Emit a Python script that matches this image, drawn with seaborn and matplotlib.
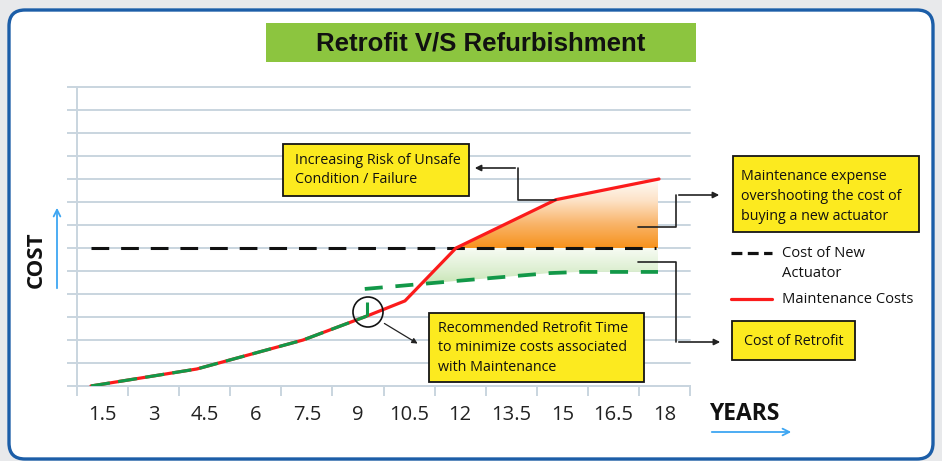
import matplotlib
matplotlib.use('Agg')
import matplotlib.pyplot as plt
import numpy as np
import seaborn as sns
from matplotlib.patches import FancyBboxPatch, Rectangle, Circle, FancyArrowPatch
from matplotlib.lines import Line2D
from matplotlib.colors import LinearSegmentedColormap

# ── data (years on x, cost in grid units on y) ───────────────
year_labels = ['1.5', '3', '4.5', '6', '7.5', '9', '10.5', '12', '13.5', '15', '16.5', '18']
year_centers = [1.5, 3, 4.5, 6, 7.5, 9, 10.5, 12, 13.5, 15, 16.5, 18]

maint_x = [1.16, 4.27, 7.39, 9.26, 10.38, 11.88, 14.81, 17.84]
maint_y = [0.0, 0.74, 2.0, 3.04, 3.70, 6.0, 8.1, 9.0]

new_cost_x = [1.16, 17.75]
new_cost_y = [6.0, 6.0]

retrofit_x = [9.2, 11.91, 14.64, 15.52, 17.81]
retrofit_y = [4.22, 4.57, 4.91, 4.96, 4.96]

retrofit_time = 9.26
retrofit_tick = [3.04, 3.65]

# ── style ────────────────────────────────────────────────────
sns.set_theme(style='white')
plt.rcParams['font.family'] = ['Open Sans', 'DejaVu Sans']

RED = '#fb1b1b'
GREEN = '#129848'
GRID = '#c9d5df'
YELLOW = '#fcea1f'
BLUE = '#3ea6f2'

fig = plt.figure(figsize=(9.42, 4.61), dpi=100, facecolor='#e8e9eb')
T = fig.dpi_scale_trans


def P(x, y):
    # reference pixel position -> figure inches
    return (x / 100, (461 - y) / 100)


# blue rounded frame
fig.add_artist(FancyBboxPatch(P(9, 459), 9.24, 4.49,
                              boxstyle='round,pad=0,rounding_size=0.16',
                              transform=T, facecolor='white', edgecolor='#1c5ea8',
                              linewidth=2.4, zorder=-1))

ax = fig.add_axes([77 / 942, 75 / 461, 613 / 942, 299 / 461])
ax.set_facecolor('none')

# ── gradient fills ───────────────────────────────────────────
xs = np.linspace(maint_x[0], retrofit_x[-1], 800)
red_i = np.interp(xs, maint_x, maint_y)
ret_i = np.interp(xs, retrofit_x, retrofit_y)
cost_lvl = new_cost_y[0]

orange = ax.fill_between(xs, cost_lvl, red_i, where=red_i >= cost_lvl, interpolate=True,
                         facecolor='none', edgecolor='none')
top = np.minimum(cost_lvl, red_i)
green = ax.fill_between(xs, ret_i, top, where=(xs >= retrofit_x[0]) & (top > ret_i),
                        interpolate=True, facecolor='none', edgecolor='none')

grad = np.linspace(0, 1, 256).reshape(-1, 1)
cm_or = LinearSegmentedColormap.from_list('or', ['#f7921c', '#f9b469', '#fde3c8', '#ffffff'])
cm_gr = LinearSegmentedColormap.from_list('gr', ['#bfe1aa', '#dff0d4', '#f8fcf5'])
im1 = ax.imshow(grad, extent=[11.5, 18, cost_lvl, max(maint_y) + 0.1], origin='lower',
                aspect='auto', cmap=cm_or, zorder=1)
im1.set_clip_path(orange.get_paths()[0], transform=ax.transData)
im2 = ax.imshow(grad, extent=[9, 18, min(retrofit_y) - 0.05, cost_lvl], origin='lower',
                aspect='auto', cmap=cm_gr, zorder=1)
im2.set_clip_path(green.get_paths()[0], transform=ax.transData)

# ── lines ────────────────────────────────────────────────────
sns.lineplot(x=new_cost_x, y=new_cost_y, ax=ax, color='#111111', lw=2.2,
             linestyle=(0, (5.8, 3.9)), zorder=3)
sns.lineplot(x=retrofit_x, y=retrofit_y, ax=ax, color=GREEN, lw=2.7,
             linestyle=(0, (4.8, 3.4)), zorder=3)
sns.lineplot(x=maint_x, y=maint_y, ax=ax, color=RED, lw=2.3, sort=False, zorder=4)
sns.lineplot(x=maint_x[:4], y=maint_y[:4], ax=ax, color=GREEN, lw=2.3,
             linestyle=(0, (6, 2.6)), sort=False, zorder=5)
ax.vlines(retrofit_time, retrofit_tick[0], retrofit_tick[1], color=GREEN, lw=2.2, zorder=5)

# ── axes ─────────────────────────────────────────────────────
ax.set_xlim(0.75, 18.75)
ax.set_ylim(0, 13)
ax.set_xticks(np.arange(0.75, 18.76, 1.5))
ax.set_xticklabels([])
ax.set_xticks(year_centers, minor=True)
ax.set_xticklabels(year_labels, minor=True)
ax.set_yticks(range(14))
ax.set_yticklabels([])
ax.tick_params(axis='x', which='major', bottom=True, length=7.5, width=1.4, color=GRID)
ax.tick_params(axis='x', which='minor', bottom=True, length=0, pad=14,
               labelsize=14.5, labelcolor='#222222')
ax.tick_params(axis='y', left=True, length=7.5, width=1.4, color=GRID)
ax.yaxis.grid(True, color=GRID, lw=1.4)
ax.xaxis.grid(False)
for gl in ax.get_ygridlines():
    gl.set_clip_on(False)
sns.despine(ax=ax)
for s in ['left', 'bottom']:
    ax.spines[s].set_color(GRID)
    ax.spines[s].set_linewidth(1.4)
ax.set_xlabel('')
ax.set_ylabel('')

# ── title ────────────────────────────────────────────────────
fig.add_artist(Rectangle(P(266, 62), 4.30, 0.39, transform=T, facecolor='#8cc53f',
                         edgecolor='none'))
fig.text(*P(481, 43), 'Retrofit V/S Refurbishment', transform=T, ha='center', va='center',
         fontsize=18.5, fontweight='bold', color='#111111',
         family=['Liberation Sans Narrow', 'Liberation Sans', 'DejaVu Sans'])

# ── axis captions ────────────────────────────────────────────
fig.text(*P(744, 414), 'YEARS', transform=T, ha='center', va='center',
         fontsize=16.5, fontweight='bold', color='#111111')
fig.add_artist(FancyArrowPatch(P(709, 432), P(794, 432), transform=T, arrowstyle='->',
                               mutation_scale=12, lw=1.3, color=BLUE))
fig.text(*P(36, 260), 'COST', transform=T, ha='center', va='center', rotation=90,
         fontsize=16, fontweight='bold', color='#111111')
fig.add_artist(FancyArrowPatch(P(57, 291), P(57, 205), transform=T, arrowstyle='->',
                               mutation_scale=12, lw=1.3, color=BLUE))


# ── callout boxes ────────────────────────────────────────────
def box(x0, y0, x1, y1, lines, tx, ty, dy, ha='left', size=10.3):
    fig.add_artist(Rectangle(P(x0, y1), (x1 - x0) / 100, (y1 - y0) / 100, transform=T,
                             facecolor=YELLOW, edgecolor='#151515', lw=1.3))
    for i, line in enumerate(lines):
        fig.text(*P(tx, ty + i * dy), line, transform=T, ha=ha, va='center',
                 fontsize=size, color='#111111')


def connector(pts):
    xy = [P(*p) for p in pts]
    fig.add_artist(Line2D([p[0] for p in xy[:-1]], [p[1] for p in xy[:-1]],
                          transform=T, color='#222222', lw=1.2))
    fig.add_artist(FancyArrowPatch(xy[-2], xy[-1], transform=T, arrowstyle='-|>',
                                   mutation_scale=9, lw=1.2, color='#222222'))


box(283, 144, 469, 196, ['Increasing Risk of Unsafe', 'Condition / Failure'], 295, 160, 19.5)
connector([(556, 200), (518, 200), (518, 168), (472, 168)])

box(733, 156, 919, 232, ['Maintenance expense', 'overshooting the cost of',
                         'buying a new actuator'], 741, 176, 20)
connector([(638, 227), (676, 227), (676, 195), (722, 195)])

box(732, 321, 855, 360, ['Cost of Retrofit'], 793.5, 341, 0, ha='center')
connector([(638, 262), (676, 262), (676, 342), (723, 342)])

box(429, 313, 644, 382, ['Recommended Retrofit Time', 'to minimize costs associated',
                         'with Maintenance'], 438, 328, 19.5)

# retrofit point marker
fig.add_artist(Circle(P(368, 312), 0.15, transform=T, fill=False, edgecolor='#111111', lw=1.2))
fig.add_artist(FancyArrowPatch(P(382, 322), P(420, 345), transform=T, arrowstyle='-|>',
                               mutation_scale=8, lw=0.9, color='#222222'))

# ── legend ───────────────────────────────────────────────────
fig.add_artist(Line2D([P(731, 0)[0], P(772, 0)[0]], [P(0, 253)[1]] * 2, transform=T,
                      color='#111111', lw=2.3, linestyle=(0, (3.4, 1.7))))
fig.add_artist(Line2D([P(731, 0)[0], P(772, 0)[0]], [P(0, 299)[1]] * 2, transform=T,
                      color=RED, lw=2.3))
fig.text(*P(782, 253), 'Cost of New', transform=T, va='center', fontsize=10.6, color='#111111')
fig.text(*P(782, 273), 'Actuator', transform=T, va='center', fontsize=10.6, color='#111111')
fig.text(*P(782, 299), 'Maintenance Costs', transform=T, va='center', fontsize=10.6,
         color='#111111')

fig.savefig('out.png', dpi=100, facecolor=fig.get_facecolor())
